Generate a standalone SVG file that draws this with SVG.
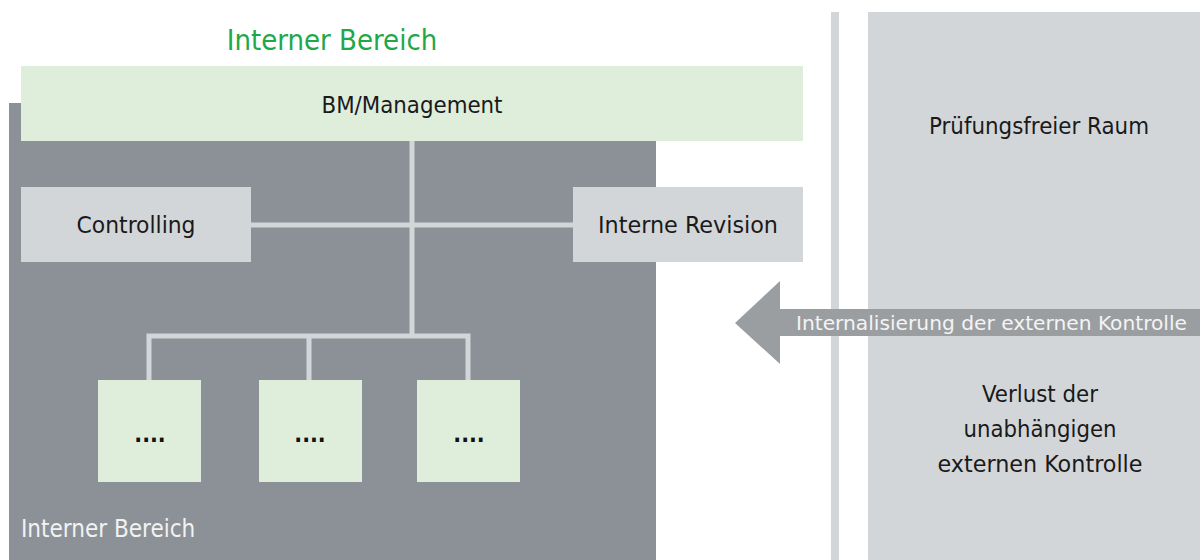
<svg xmlns="http://www.w3.org/2000/svg" width="1200" height="560" viewBox="0 0 1200 560">
  <style>
    text { font-family: "DejaVu Sans Condensed", "DejaVu Sans", sans-serif; }
    .lbl { font-size: 23px; fill: #1a1a1a; text-anchor: middle; }
    .dots { font-size: 23px; font-weight: bold; fill: #111111; text-anchor: middle; }
    .green { fill: #dfeddb; }
    .grey { fill: #d3d6d9; }
    .conn { fill: none; stroke: #d3d6d9; stroke-width: 5; stroke-linejoin: miter; }
  </style>

  <rect width="1200" height="560" fill="#ffffff"/>

  <!-- internal area background -->
  <g id="internal-area">
    <rect x="9" y="103" width="647" height="457" fill="#8b9197"/>
    <text x="21" y="537" font-size="24" fill="#f2f2f2">Interner Bereich</text>
  </g>

  <!-- title -->
  <g id="title">
    <text x="332" y="50" font-size="29" fill="#1fa84a" text-anchor="middle">Interner Bereich</text>
  </g>

  <!-- connectors -->
  <g id="connectors">
    <path class="conn" d="M412,138 V336"/>
    <path class="conn" d="M251,225 H573"/>
    <path class="conn" d="M149,380 V336 H468 V380"/>
    <path class="conn" d="M309,336 V380"/>
  </g>

  <g id="management">
    <rect class="green" x="21" y="66" width="782" height="75"/>
    <text class="lbl" x="412" y="113" textLength="181" lengthAdjust="spacingAndGlyphs">BM/Management</text>
  </g>

  <g id="controlling">
    <rect class="grey" x="21" y="187" width="230" height="75"/>
    <text class="lbl" x="136" y="233" textLength="119" lengthAdjust="spacingAndGlyphs">Controlling</text>
  </g>

  <g id="revision">
    <rect class="grey" x="573" y="187" width="230" height="75"/>
    <text class="lbl" x="688" y="233" textLength="180" lengthAdjust="spacingAndGlyphs">Interne Revision</text>
  </g>

  <g id="unit-1">
    <rect class="green" x="98" y="380" width="103" height="102"/>
    <text class="dots" x="150" y="442">....</text>
  </g>
  <g id="unit-2">
    <rect class="green" x="259" y="380" width="103" height="102"/>
    <text class="dots" x="310" y="442">....</text>
  </g>
  <g id="unit-3">
    <rect class="green" x="417" y="380" width="103" height="102"/>
    <text class="dots" x="469" y="442">....</text>
  </g>

  <!-- divider and external area -->
  <g id="divider">
    <rect class="grey" x="831" y="12" width="8" height="548"/>
  </g>

  <g id="external-area">
    <rect class="grey" x="868" y="12" width="332" height="548"/>
    <text class="lbl" x="1039" y="134" textLength="220" lengthAdjust="spacingAndGlyphs">Prüfungsfreier Raum</text>
    <text class="lbl" x="1040" y="402" textLength="116" lengthAdjust="spacingAndGlyphs">Verlust der</text>
    <text class="lbl" x="1040" y="437" textLength="153" lengthAdjust="spacingAndGlyphs">unabhängigen</text>
    <text class="lbl" x="1040" y="472" textLength="205" lengthAdjust="spacingAndGlyphs">externen Kontrolle</text>
  </g>

  <!-- internalisation arrow -->
  <g id="arrow">
    <polygon points="735,323 780,281 780,309 1200,309 1200,336 780,336 780,364" fill="#9b9ea1"/>
    <text x="796" y="330" font-size="20" fill="#f4f4f4" textLength="391" lengthAdjust="spacingAndGlyphs">Internalisierung der externen Kontrolle</text>
  </g>
</svg>
